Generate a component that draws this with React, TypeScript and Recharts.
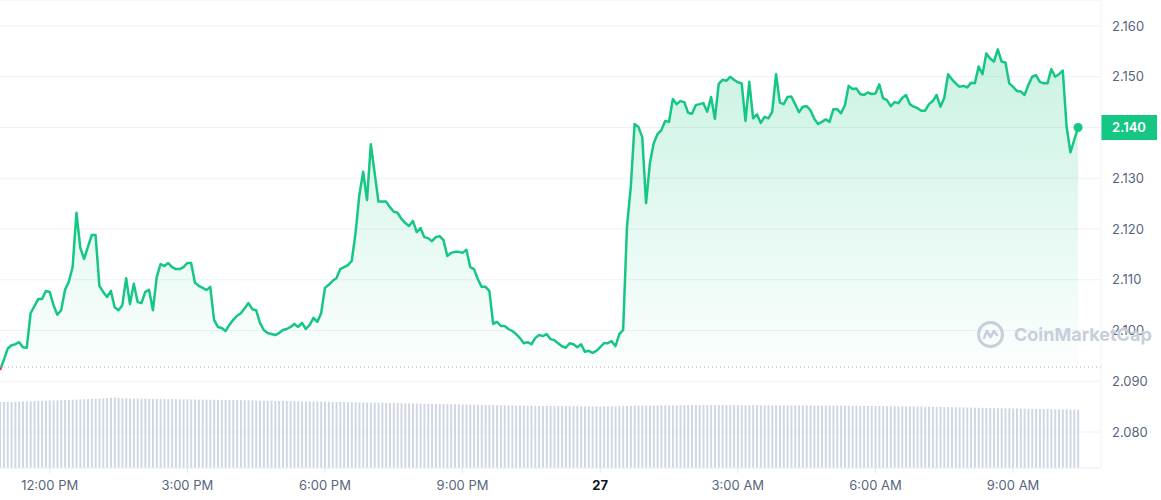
import React from 'react';
import { ComposedChart, Area, Bar, XAxis, YAxis, CartesianGrid, ReferenceLine } from 'recharts';

// one sample every 5 minutes, first sample at 10:55 AM
const stepMinutes = 5;

const prices: (number | null)[] = [
  2.0922, 2.0942, 2.0964, 2.0971, 2.0973, 2.0977, 2.0967, 2.0966, 2.1034, 2.1048,
  2.1062, 2.1062, 2.1078, 2.1076, 2.1050, 2.1031, 2.1040, 2.1080, 2.1096, 2.1125,
  2.1232, 2.1163, 2.1141, 2.1165, 2.1188, 2.1188, 2.1088, 2.1076, 2.1066, 2.1078,
  2.1046, 2.1040, 2.1050, 2.1103, 2.1052, 2.1092, 2.1056, 2.1054, 2.1076, 2.1080,
  2.1040, 2.1105, 2.1131, 2.1127, 2.1133, 2.1125, 2.1121, 2.1121, 2.1125, 2.1133,
  2.1133, 2.1094, 2.1088, 2.1084, 2.1080, 2.1086, 2.1021, 2.1007, 2.1005, 2.0999,
  2.1011, 2.1021, 2.1029, 2.1034, 2.1044, 2.1054, 2.1042, 2.1040, 2.1015, 2.1001,
  2.0995, 2.0993, 2.0991, 2.0995, 2.1001, 2.1003, 2.1007, 2.1013, 2.1007, 2.1015,
  2.1003, 2.1011, 2.1025, 2.1017, 2.1034, 2.1084, 2.1090, 2.1098, 2.1103, 2.1121,
  2.1125, 2.1129, 2.1137, 2.1192, 2.1267, 2.1313, 2.1257, 2.1367, null, 2.1254,
  2.1254, 2.1254, 2.1243, 2.1234, 2.1232, 2.1220, 2.1212, 2.1206, 2.1216, 2.1194,
  2.1202, 2.1184, 2.1182, 2.1176, 2.1184, 2.1186, 2.1178, 2.1147, 2.1153, 2.1155,
  2.1155, 2.1153, 2.1159, 2.1125, 2.1121, 2.1101, 2.1086, 2.1086, 2.1078, 2.1013,
  2.1017, 2.1009, 2.1009, 2.1003, 2.0999, 2.0993, 2.0985, 2.0975, 2.0977, 2.0973,
  2.0985, 2.0991, 2.0989, 2.0993, 2.0983, 2.0981, 2.0975, 2.0969, 2.0966, 2.0975,
  2.0973, 2.0967, 2.0973, 2.0958, 2.0960, 2.0956, 2.0960, 2.0967, 2.0975, 2.0975,
  2.0979, 2.0969, 2.0993, 2.1001, 2.1204, 2.1283, 2.1407, 2.1401, 2.1381, 2.1251,
  2.1330, 2.1369, 2.1387, 2.1395, 2.1413, 2.1411, 2.1456, 2.1446, 2.1452, 2.1450,
  2.1429, 2.1427, 2.1444, 2.1446, 2.1448, 2.1431, 2.1460, 2.1417, 2.1486, 2.1494,
  2.1492, 2.1500, 2.1494, 2.1489, 2.1487, 2.1413, 2.1490, 2.1418, 2.1426, 2.1409,
  2.1421, 2.1418, 2.1431, 2.1505, 2.1449, 2.1446, 2.1460, 2.1461, 2.1446, 2.1430,
  2.1441, 2.1442, 2.1434, 2.1417, 2.1407, 2.1411, 2.1416, 2.1411, 2.1436, 2.1436,
  2.1428, 2.1444, 2.1482, 2.1476, 2.1477, 2.1466, 2.1464, 2.1469, 2.1466, 2.1467,
  2.1485, 2.1458, 2.1454, 2.1442, 2.1450, 2.1448, 2.1458, 2.1464, 2.1446, 2.1441,
  2.1438, 2.1433, 2.1433, 2.1446, 2.1452, 2.1464, 2.1441, 2.1458, 2.1505, 2.1495,
  2.1487, 2.1480, 2.1482, 2.1479, 2.1488, 2.1487, 2.1520, 2.1505, 2.1546, 2.1536,
  2.1530, 2.1554, 2.1530, 2.1528, 2.1487, 2.1480, 2.1472, 2.1471, 2.1464, 2.1484,
  2.1500, 2.1503, 2.1490, 2.1487, 2.1487, 2.1515, 2.1500, 2.1505, 2.1512, 2.1402,
  2.1351, null, 2.1400,
];

// rolling 24h volume, millions USD
const volumes: number[] = [
  825, 826, 825, 827, 829, 830, 831, 833, 832, 835,
  838, 840, 841, 844, 845, 845, 848, 850, 851, 853,
  855, 857, 860, 861, 864, 866, 867, 870, 874, 878,
  879, 876, 872, 871, 869, 868, 867, 866, 866, 864,
  864, 863, 862, 861, 861, 860, 859, 859, 858, 857,
  857, 856, 855, 855, 854, 853, 853, 852, 851, 851,
  850, 849, 849, 848, 847, 846, 845, 844, 843, 842,
  841, 840, 839, 839, 838, 837, 836, 835, 834, 833,
  832, 831, 830, 829, 829, 828, 827, 826, 825, 825,
  824, 823, 822, 821, 820, 819, 818, 817, 817, 816,
  815, 814, 813, 812, 811, 810, 809, 808, 807, 806,
  805, 804, 803, 802, 801, 800, 799, 798, 797, 796,
  795, 794, 793, 792, 791, 790, 789, 788, 787, 786,
  785, 784, 783, 782, 781, 780, 780, 779, 778, 778,
  777, 776, 776, 775, 775, 774, 774, 773, 773, 772,
  772, 772, 771, 771, 771, 770, 770, 770, 770, 770,
  770, 771, 772, 774, 776, 777, 778, 779, 780, 780,
  781, 781, 782, 782, 783, 783, 784, 784, 785, 785,
  785, 786, 786, 786, 787, 786, 786, 786, 786, 786,
  786, 786, 786, 785, 785, 785, 785, 785, 785, 784,
  784, 784, 784, 784, 783, 783, 783, 783, 782, 782,
  782, 782, 781, 781, 781, 780, 780, 780, 779, 779,
  779, 778, 778, 777, 777, 776, 776, 775, 775, 774,
  774, 773, 773, 772, 772, 771, 771, 770, 770, 769,
  769, 768, 767, 766, 765, 764, 763, 762, 761, 760,
  759, 758, 757, 756, 755, 754, 753, 752, 751, 750,
  749, 748, 747, 746, 745, 744, 743, 742, 741, 740,
  739, 738, 737, 736, 735, 734, 734, 733, 732, 731,
  730, 729, 728,
];

const openPrice = 2.0928;
const lastPrice = 2.14;

const timeTicks = [65, 245, 425, 605, 785, 965, 1145, 1325];
const timeLabels = ['12:00 PM', '3:00 PM', '6:00 PM', '9:00 PM', '27', '3:00 AM', '6:00 AM', '9:00 AM'];
const priceTicks = [2.08, 2.09, 2.1, 2.11, 2.12, 2.13, 2.14, 2.15, 2.16];

const GREEN = '#16c784';
const RED = '#ea3943';
const AXIS_TEXT = '#58667e';

const data = volumes.map((vol, i) => ({ t: i * stepMinutes, price: prices[i], vol }));

const known = prices.filter((p): p is number => p !== null);
const maxP = Math.max(...known);
const minP = Math.min(...known);
const splitOffset = (maxP - openPrice) / (maxP - minP);

const TimeTick = ({ x, y, payload }: any) => {
  const label = timeLabels[timeTicks.indexOf(payload.value)];
  const isDay = label === '27';
  return (
    <text
      x={x}
      y={y}
      dy="0.71em"
      textAnchor="middle"
      fontSize={13}
      fontWeight={isDay ? 700 : 400}
      fill={isDay ? '#0d1421' : AXIS_TEXT}
      fontFamily="Inter"
    >
      {label}
    </text>
  );
};

const PriceTick = ({ x, y, payload }: any) => {
  if (Math.abs(payload.value - lastPrice) < 1e-6) return <g />;
  return (
    <text x={x} y={y} dy="0.355em" textAnchor="start" fontSize={13} fill={AXIS_TEXT} fontFamily="Inter">
      {payload.value.toFixed(3)}
    </text>
  );
};

const PriceTag = (props: any) => {
  const { x, y, width } = props.viewBox;
  const left = x + width;
  return (
    <g>
      <rect x={left} y={y - 12.5} width={56} height={25} fill={GREEN} />
      <text
        x={left + 28}
        y={y}
        dy="0.355em"
        textAnchor="middle"
        fontSize={13}
        fontWeight={600}
        fill="#fff"
        fontFamily="Inter"
      >
        {lastPrice.toFixed(3)}
      </text>
    </g>
  );
};

const lastIndex = data.length - 1;
const EndDot = (props: any) => {
  if (props.index !== lastIndex) return <g key={props.index} />;
  return <circle key={props.index} cx={props.cx} cy={props.cy} r={4.5} fill={GREEN} />;
};

const Watermark = () => (
  <div
    style={{
      position: 'absolute',
      left: 976,
      top: 320,
      display: 'flex',
      alignItems: 'center',
      gap: 9,
      pointerEvents: 'none',
      color: '#c8cedb',
      fontFamily: 'Inter',
      fontWeight: 700,
      fontSize: 18,
    }}
  >
    <svg width={29} height={29} viewBox="0 0 29 29">
      <circle cx={14.5} cy={14.5} r={12} fill="none" stroke="#c8cedb" strokeWidth={3} />
      <path d="M8 18 L11 11 L14.5 17 L18 11 L21 15" fill="none" stroke="#c8cedb" strokeWidth={2.6} strokeLinejoin="round" strokeLinecap="round" />
    </svg>
    <span>CoinMarketCap</span>
  </div>
);

export default function App() {
  return (
    <div style={{ position: 'absolute', left: 0, top: 0, width: 1161, height: 500, background: '#fff' }}>
      <ComposedChart width={1161} height={500} data={data} margin={{ top: 0, right: 0, bottom: 0, left: 0 }}>
        <defs>
          <linearGradient id="lineStroke" x1="0" y1="0" x2="0" y2="1">
            <stop offset={splitOffset} stopColor={GREEN} />
            <stop offset={splitOffset} stopColor={RED} />
          </linearGradient>
          <linearGradient id="areaFill" x1="0" y1="0" x2="0" y2="1">
            <stop offset="0%" stopColor={GREEN} stopOpacity={0.38} />
            <stop offset="50%" stopColor={GREEN} stopOpacity={0.2} />
            <stop offset="100%" stopColor={GREEN} stopOpacity={0.02} />
          </linearGradient>
        </defs>
        <CartesianGrid yAxisId="price" vertical={false} stroke="#eff2f5" />
        <XAxis
          dataKey="t"
          type="number"
          domain={[0, 1440]}
          ticks={timeTicks}
          tick={<TimeTick />}
          tickSize={5}
          tickMargin={8}
          height={32}
          axisLine={{ stroke: '#eff2f5' }}
          tickLine={{ stroke: '#e3e6eb' }}
          allowDataOverflow
        />
        <YAxis
          yAxisId="price"
          orientation="right"
          domain={[2.07291, 2.16512]}
          ticks={priceTicks}
          tick={<PriceTick />}
          width={60}
          tickSize={0}
          tickMargin={11}
          tickLine={false}
          axisLine={{ stroke: '#eff2f5' }}
          allowDataOverflow
        />
        <YAxis yAxisId="vol" hide domain={[0, 5850]} />
        <Bar yAxisId="vol" dataKey="vol" fill="#cfd6e4" barSize={2} isAnimationActive={false} />
        <ReferenceLine yAxisId="price" y={openPrice} stroke="#a6b0c3" strokeDasharray="1 3" />
        <Area
          yAxisId="price"
          type="linear"
          dataKey="price"
          baseValue={openPrice}
          connectNulls
          stroke="url(#lineStroke)"
          strokeWidth={2.5}
          strokeLinejoin="round"
          fill="url(#areaFill)"
          dot={<EndDot />}
          activeDot={false}
          isAnimationActive={false}
        />
        <ReferenceLine yAxisId="price" y={lastPrice} stroke="none" label={PriceTag} />
      </ComposedChart>
      <Watermark />
    </div>
  );
}
